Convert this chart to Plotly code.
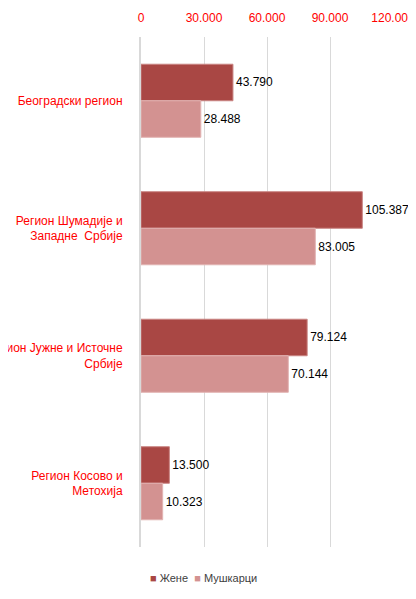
import plotly.graph_objects as go

categories = ["Београдски регион", "Регион Шумадије и<br>Западне  Србије",
              "Регион Јужне и Источне<br>Србије", "Регион Косово и<br>Метохија"]
zene = [43790, 105387, 79124, 13500]
muskarci = [28488, 83005, 70144, 10323]
tick_vals = [0, 30000, 60000, 90000, 120000]
series_names = ["Жене", "Мушкарци"]
colors = ["#A94744", "#D39291"]

FONT = "Liberation Sans, Arial, sans-serif"

# figure sits inside the page's 8px body margin
W, H = 408, 583
L, R, T, B = 133, 23, 29, 44

fig = go.Figure()
for name, vals, col, edge in [(series_names[0], zene, colors[0], "#C98482"),
                              (series_names[1], muskarci, colors[1], "#E2B3B2")]:
    fig.add_trace(go.Bar(
        y=categories, x=vals, name=name, orientation="h",
        marker=dict(color=col, line=dict(color=edge, width=1)),
        texttemplate="%{x:,}", textposition="outside",
        textfont=dict(color="#000000", size=12, family=FONT), cliponaxis=False,
        showlegend=False,
    ))

legend_text = (f'<span style="color:{colors[0]}">■</span> {series_names[0]}  '
               f'<span style="color:{colors[1]}">■</span> {series_names[1]}')
plot_w = W - L - R
fig.add_annotation(
    text=legend_text, xref="paper", yref="paper",
    x=(195 - L) / plot_w, xanchor="center", y=-0.045, yanchor="top",
    showarrow=False, font=dict(size=11, color="#404040", family=FONT),
)

fig.update_layout(
    width=W, height=H,
    margin=dict(l=L, r=R, t=T, b=B),
    paper_bgcolor="white", plot_bgcolor="white",
    separators=",.",
    barmode="group", bargap=0.427, bargroupgap=0,
    font=dict(family=FONT, size=12, color="#000000"),
    showlegend=False,
    uniformtext=dict(minsize=8, mode="show"),
)
fig.update_xaxes(
    side="top", range=[0, 120000], tickvals=tick_vals, tickformat=",",
    showgrid=True, gridcolor="#D9D9D9", gridwidth=1,
    zeroline=False, showline=False,
    tickfont=dict(color="#FF0000", size=12, family=FONT),
    ticks="", ticklabelstandoff=12, automargin=False, fixedrange=True,
)
fig.update_yaxes(
    autorange="reversed", showline=True, linecolor="#D9D9D9", linewidth=2,
    tickfont=dict(color="#FF0000", size=12, family=FONT),
    ticks="", ticklabelstandoff=14, automargin=False, showgrid=False,
)

fig.write_html("out.html")
